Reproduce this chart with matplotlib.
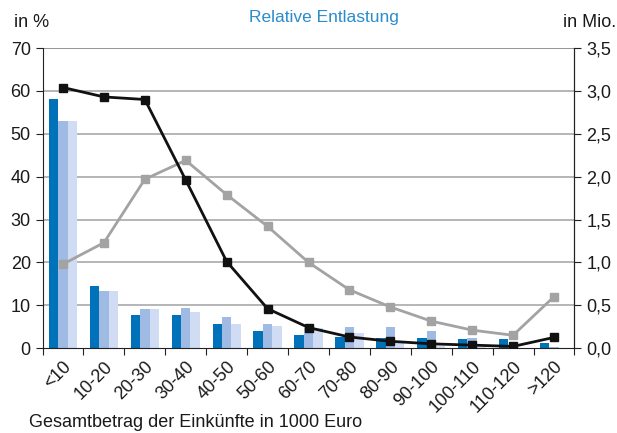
import matplotlib
matplotlib.use("Agg")
import matplotlib.pyplot as plt
import numpy as np

plt.rcParams['font.family'] = ['Liberation Sans', 'DejaVu Sans']

categories = ["<10", "10-20", "20-30", "30-40", "40-50", "50-60", "60-70",
              "70-80", "80-90", "90-100", "100-110", "110-120", ">120"]
bars_dark = [58.1, 14.5, 7.7, 7.7, 5.6, 4.0, 3.0, 2.6, 2.3, 2.3, 2.1, 2.1, 1.2]
bars_mid = [53.0, 13.3, 9.1, 9.3, 7.2, 5.7, 4.8, 4.9, 4.9, 4.0, 2.4, 0.3, 0.2]
bars_light = [53.0, 13.3, 9.1, 8.4, 5.6, 5.1, 4.6, 3.5, 1.2, 0.6, 0.3, 0.1, 0.05]
line_black = [3.04, 2.93, 2.90, 1.96, 1.01, 0.46, 0.24, 0.13, 0.08, 0.05, 0.035, 0.02, 0.125]
line_gray = [0.98, 1.23, 1.97, 2.19, 1.79, 1.42, 1.00, 0.68, 0.48, 0.315, 0.21, 0.15, 0.60]
left_ticks = [0, 10, 20, 30, 40, 50, 60, 70]
right_ticks = [0.0, 0.5, 1.0, 1.5, 2.0, 2.5, 3.0, 3.5]
right_labels = ["0,0", "0,5", "1,0", "1,5", "2,0", "2,5", "3,0", "3,5"]

fs = 13
fig = plt.figure(figsize=(6.17, 4.33), dpi=100)
ax = fig.add_axes([0.069, 0.196, 0.862, 0.693])
x = np.arange(len(categories))
w = 0.23
ax.bar(x - w, bars_dark, w, color="#0072b9", zorder=2)
ax.bar(x, bars_mid, w, color="#9fbbe3", zorder=2)
ax.bar(x + w, bars_light, w, color="#cfdcf3", zorder=2)
ax.set_xlim(-0.5, len(categories) - 0.5)
ax.set_ylim(0, 70)
ax.set_yticks(left_ticks)
for v in left_ticks[1:]:
    ax.axhline(v, color="#8c8c8c" if v == 70 else "#b0b0b0", lw=1.3, zorder=1)
ax.set_xticks(np.arange(len(categories) + 1) - 0.5, minor=False)
ax.set_xticklabels([])
ax.set_xticks(x, minor=True)
ax.set_xticklabels(categories, minor=True, rotation=45, ha="right", va="top",
                   rotation_mode="anchor", fontsize=fs, color="#1a1a1a")
ax.tick_params(axis="x", which="major", length=5, direction="out", color="#222")
ax.tick_params(axis="x", which="minor", length=0, pad=7)
ax.tick_params(axis="y", length=5, direction="out", labelsize=fs, labelcolor="#1a1a1a", color="#222")
ax.spines["top"].set_visible(False)
ax.spines["left"].set_color("#222")
ax.spines["bottom"].set_color("#222")
ax.spines["right"].set_color("#222")

ax2 = ax.twinx()
ax2.plot(x, line_gray, color="#a3a3a3", lw=2, marker="s", ms=6, zorder=3)
ax2.plot(x, line_black, color="#111111", lw=2, marker="s", ms=6, zorder=4)
ax2.set_ylim(0, 3.5)
ax2.set_yticks(right_ticks)
ax2.set_yticklabels(right_labels)
ax2.tick_params(axis="y", length=5, direction="out", labelsize=fs, labelcolor="#1a1a1a", color="#222")
ax2.spines["top"].set_visible(False)
ax2.spines["right"].set_color("#222")
ax2.spines["left"].set_visible(False)
ax2.spines["bottom"].set_visible(False)

fig.text(0.022, 0.947, "in %", fontsize=fs, color="#1a1a1a", va="center")
fig.text(0.998, 0.947, "in Mio.", fontsize=fs, color="#1a1a1a", va="center", ha="right")
fig.text(0.525, 0.96, "Relative Entlastung", fontsize=12.5, color="#2b8ccc", va="center", ha="center")
fig.text(0.047, 0.025, "Gesamtbetrag der Einkünfte in 1000 Euro", fontsize=fs,
         color="#1a1a1a", va="center")

fig.savefig("out.png", dpi=100)
